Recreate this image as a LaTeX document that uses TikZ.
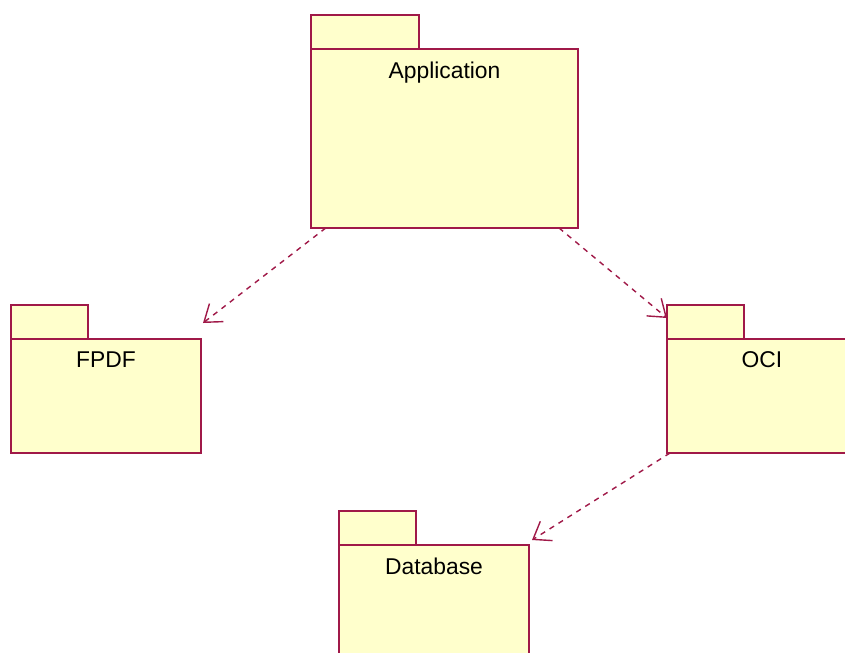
\documentclass[tikz,border=0pt]{standalone}
\usepackage{fontspec}
\setmainfont{Liberation Sans}
\usetikzlibrary{positioning,arrows.meta}
\definecolor{pkgline}{RGB}{160,25,72}
\definecolor{pkgfill}{RGB}{255,255,204}
\begin{document}
\begin{tikzpicture}[
  pkg/.style={draw=pkgline,fill=pkgfill,line width=1pt,minimum width=3.8cm,minimum height=2.28cm,inner sep=0pt,outer sep=0pt},
  tab/.style={draw=pkgline,fill=pkgfill,line width=1pt,minimum width=1.54cm,minimum height=0.68cm,inner sep=0pt,outer sep=0pt},
  pkgname/.style={inner sep=0pt,font=\fontsize{13}{15}\selectfont},
  dep/.style={draw=pkgline,line width=0.8pt,dash pattern=on 3pt off 3pt,-{Straight Barb[length=9pt,width=13pt]}}]
\useasboundingbox (0,0) rectangle (16.9,-13.04);
\clip (0,0) rectangle (16.9,-13.04);
\node[pkg,minimum width=5.34cm,minimum height=3.58cm] (app) at (8.89,-2.77) {};
\node[tab,minimum width=2.16cm,above right=0pt and 0pt of app.north west] (apptab) {};
\node[pkgname,below=7pt of app.north] (appname) {Application};
\node[pkg] (fpdf) at (2.12,-7.92) {};
\node[tab,above right=0pt and 0pt of fpdf.north west] (fpdftab) {};
\node[pkgname,below=7pt of fpdf.north] (fpdfname) {FPDF};
\node[pkg] (oci) at (15.24,-7.92) {};
\node[tab,above right=0pt and 0pt of oci.north west] (ocitab) {};
\node[pkgname,below=7pt of oci.north] (ociname) {OCI};
\node[pkg] (db) at (8.68,-12.04) {};
\node[tab,above right=0pt and 0pt of db.north west] (dbtab) {};
\node[pkgname,below=7pt of db.north] (dbname) {Database};
% dependencies
\draw[dep] (app.217) -- ([shift={(0.04,0.32)}]fpdf.north east);
\draw[dep] (app.322) -- ([yshift=0.08cm]ocitab.west);
\draw[dep] ([xshift=0.06cm]oci.south west) -- ([shift={(0.06,0.1)}]db.north east);
\end{tikzpicture}
\end{document}
